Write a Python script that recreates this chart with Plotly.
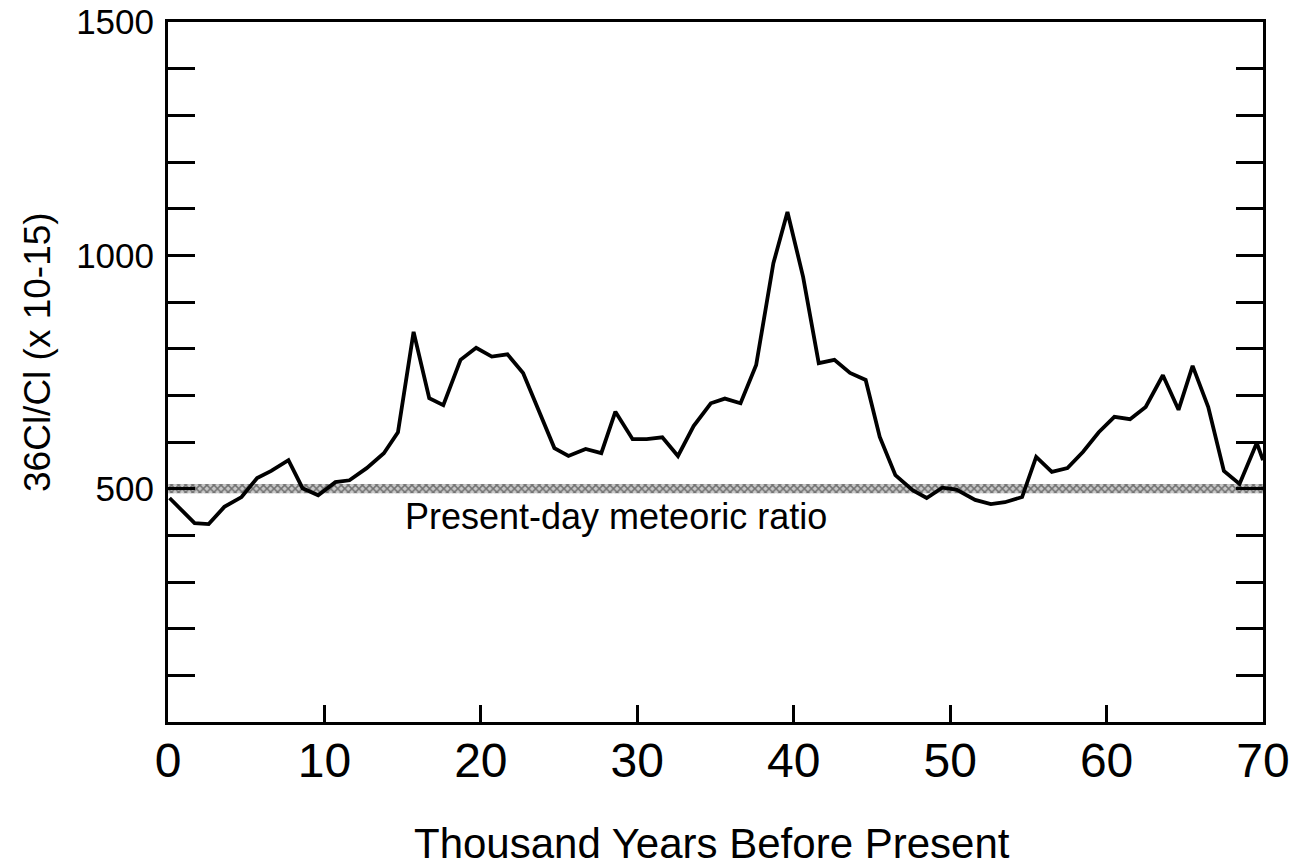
import plotly.graph_objects as go

# Data
years_kyr = [0.1, 1.7, 2.6, 3.6, 4.7, 5.7, 6.6, 7.7, 8.6, 9.6,
             10.7, 11.6, 12.7, 13.8, 14.7, 15.7, 16.7, 17.6, 18.7, 19.7,
             20.7, 21.7, 22.7, 23.7, 24.7, 25.6, 26.7, 27.7, 28.6, 29.7,
             30.6, 31.6, 32.6, 33.6, 34.7, 35.6, 36.6, 37.6, 38.7, 39.6,
             40.6, 41.6, 42.6, 43.6, 44.6, 45.5, 46.5, 47.6, 48.5, 49.5,
             50.4, 51.6, 52.6, 53.5, 54.6, 55.5, 56.5, 57.5, 58.5, 59.5,
             60.5, 61.5, 62.5, 63.6, 64.6, 65.5, 66.5, 67.5, 68.5, 69.6,
             70.0]
ratio = [480, 426, 424, 461, 482, 523, 538, 561, 501, 486,
         514, 518, 544, 576, 621, 836, 694, 679, 776, 802,
         783, 788, 748, 668, 587, 570, 585, 576, 665, 606,
         606, 610, 570, 634, 683, 693, 683, 765, 983, 1093,
         954, 769, 776, 748, 733, 611, 529, 497, 480, 502,
         498, 476, 467, 471, 482, 568, 536, 544, 579, 621,
         654, 649, 675, 743, 669, 763, 675, 538, 510, 598,
         561]

band_x = [0, 70, 70, 0, 0]
band_y = [490, 490, 510, 510, 490]

x_tickvals = [0, 10, 20, 30, 40, 50, 60, 70]
x_ticktext = ["0", "10", "20", "30", "40", "50", "60", "70"]
y_tickvals = list(range(0, 1501, 100))
y_ticktext = [str(v) if v in (500, 1000, 1500) else "" for v in y_tickvals]

FONT = "Liberation Sans, Arial, Helvetica, sans-serif"

fig = go.Figure()
fig.add_trace(go.Scatter(
    x=band_x, y=band_y, mode="lines", fill="toself",
    fillcolor="rgba(0,0,0,0)",
    fillpattern=dict(shape="x", size=5, fgcolor="#1a1a1a", bgcolor="#c8c8c8", solidity=0.5),
    line=dict(width=0), hoverinfo="skip", showlegend=False))
fig.add_trace(go.Scatter(
    x=years_kyr, y=ratio, mode="lines",
    line=dict(color="black", width=3.8), showlegend=False))

fig.update_layout(
    width=1293, height=866,
    margin=dict(l=168, r=30, t=22, b=144, autoexpand=False),
    paper_bgcolor="white", plot_bgcolor="white",
    font=dict(family=FONT, color="black"),
    xaxis=dict(range=[0, 70], tickvals=x_tickvals, ticktext=x_ticktext,
               ticks="inside", ticklen=17, tickwidth=3, tickcolor="black",
               showline=True, linecolor="black", linewidth=3, mirror=True,
               showgrid=False, zeroline=False, automargin=False,
               tickfont=dict(size=48, family=FONT), ticklabelstandoff=-6),
    yaxis=dict(range=[0, 1500], tickvals=y_tickvals, ticktext=y_ticktext,
               ticks="inside", ticklen=27, tickwidth=3, tickcolor="black",
               showline=True, linecolor="black", linewidth=3, mirror="ticks",
               showgrid=False, zeroline=False, automargin=False,
               tickfont=dict(size=35, family=FONT), ticklabelstandoff=4),
    annotations=[
        dict(text="Present-day meteoric ratio", x=15.0, y=441, xref="x", yref="y",
             xanchor="left", yanchor="middle", showarrow=False,
             font=dict(size=36, family=FONT)),
        dict(text="36Cl/Cl (x 10-15)", x=(37 - 168) / 1095, y=(722 - 352) / 700,
             xref="paper", yref="paper", xanchor="center", yanchor="middle",
             textangle=-90, showarrow=False, font=dict(size=37, family=FONT)),
        dict(text="Thousand Years Before Present", x=(712 - 168) / 1095, y=(722 - 869) / 700,
             xref="paper", yref="paper", xanchor="center", yanchor="bottom",
             showarrow=False, font=dict(size=42, family=FONT)),
    ],
)

fig.write_html("out.html")
